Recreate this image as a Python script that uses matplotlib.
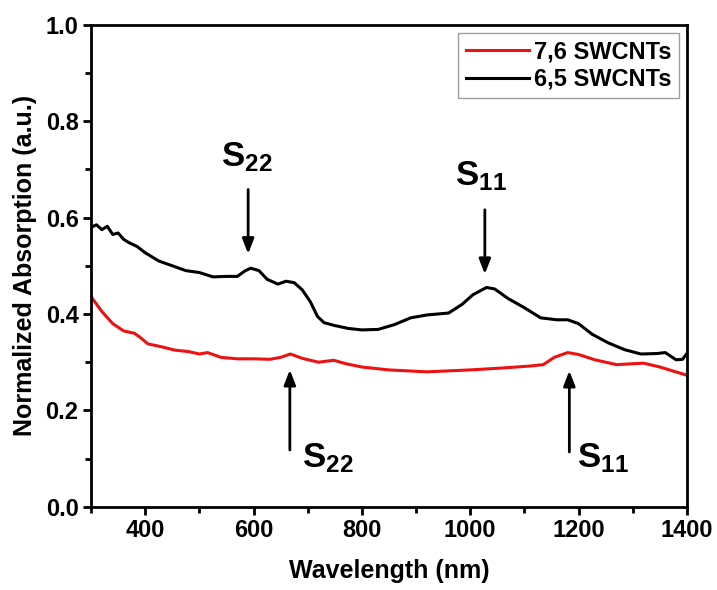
import matplotlib
matplotlib.use('Agg')
import matplotlib.pyplot as plt
from matplotlib.ticker import MultipleLocator

plt.rcParams['font.family'] = 'Liberation Sans'
plt.rcParams['font.weight'] = 'bold'
plt.rcParams['mathtext.fontset'] = 'custom'
plt.rcParams['mathtext.rm'] = 'Liberation Sans:bold'
plt.rcParams['mathtext.bf'] = 'Liberation Sans:bold'

# 6,5 SWCNTs spectrum
wl_65 = [300, 310, 320, 330, 340, 350, 360, 370, 385, 400, 425, 450, 475, 500,
         525, 550, 570, 585, 595, 610, 625, 645, 660, 675, 690, 705, 718, 730,
         750, 775, 800, 830, 860, 890, 920, 960, 985, 1005, 1030, 1045, 1070,
         1100, 1130, 1160, 1180, 1200, 1225, 1255, 1285, 1315, 1345, 1360,
         1380, 1392, 1400]
abs_65 = [0.580, 0.585, 0.575, 0.582, 0.565, 0.568, 0.555, 0.548, 0.540, 0.527,
          0.510, 0.500, 0.490, 0.486, 0.477, 0.478, 0.478, 0.490, 0.495, 0.490,
          0.472, 0.462, 0.468, 0.465, 0.450, 0.425, 0.395, 0.382, 0.376, 0.370,
          0.367, 0.368, 0.378, 0.392, 0.398, 0.402, 0.420, 0.440, 0.455, 0.452,
          0.432, 0.413, 0.392, 0.388, 0.388, 0.380, 0.358, 0.340, 0.326, 0.317,
          0.318, 0.320, 0.305, 0.306, 0.318]

# 7,6 SWCNTs spectrum
wl_76 = [300, 320, 340, 360, 380, 390, 405, 430, 455, 480, 500, 515, 540, 570,
         600, 630, 650, 668, 690, 720, 748, 770, 800, 850, 920, 1000, 1060,
         1110, 1135, 1155, 1180, 1200, 1230, 1270, 1320, 1350, 1400]
abs_76 = [0.436, 0.405, 0.380, 0.365, 0.360, 0.352, 0.338, 0.332, 0.325, 0.322,
          0.317, 0.320, 0.310, 0.307, 0.307, 0.306, 0.310, 0.317, 0.308, 0.300,
          0.304, 0.297, 0.290, 0.284, 0.280, 0.284, 0.288, 0.292, 0.295, 0.310,
          0.320, 0.316, 0.305, 0.295, 0.298, 0.290, 0.273]

fig = plt.figure(figsize=(7.17, 5.90), dpi=100)
ax = fig.add_axes([0.127, 0.141, 0.831, 0.817])

ax.plot(wl_76, abs_76, color='#ee1111', lw=2.2, label='7,6 SWCNTs')
ax.plot(wl_65, abs_65, color='black', lw=2.2, label='6,5 SWCNTs')

ax.set_xlim(300, 1400)
ax.set_ylim(0, 1.0)
ax.xaxis.set_minor_locator(MultipleLocator(100))
ax.yaxis.set_major_locator(MultipleLocator(0.2))
ax.yaxis.set_minor_locator(MultipleLocator(0.1))
ax.set_xticks([400, 600, 800, 1000, 1200, 1400])
ax.tick_params(which='major', direction='out', length=6, width=2, labelsize=17, pad=3)
ax.tick_params(which='minor', direction='out', length=4, width=2)
for s in ax.spines.values():
    s.set_linewidth(2)

ax.set_xlabel('Wavelength (nm)', fontsize=18, fontweight='bold', labelpad=12)
ax.set_ylabel('Normalized Absorption (a.u.)', fontsize=18, fontweight='bold', labelpad=6)

leg = ax.legend(loc='upper right', fontsize=17, frameon=True, fancybox=False,
                handlelength=2.7, handletextpad=0.2, borderpad=0.3,
                labelspacing=0.2, borderaxespad=0.35)
leg.get_frame().set_edgecolor('#888888')
leg.get_frame().set_linewidth(1)
for t in leg.get_texts():
    t.set_fontweight('bold')

arrow = dict(arrowstyle='-|>,head_length=0.9,head_width=0.35', color='black', lw=2)
# black-curve transitions, arrows pointing down
ax.annotate('', xy=(590, 0.519), xytext=(590, 0.664), arrowprops=arrow)
ax.text(588, 0.69, r'$\mathbf{S_{22}}$', fontsize=25, ha='center', va='bottom')
ax.annotate('', xy=(1027, 0.477), xytext=(1027, 0.622), arrowprops=arrow)
ax.text(1020, 0.65, r'$\mathbf{S_{11}}$', fontsize=25, ha='center', va='bottom')
# red-curve transitions, arrows pointing up
ax.annotate('', xy=(667, 0.29), xytext=(667, 0.112), arrowprops=arrow)
ax.text(690, 0.10, r'$\mathbf{S_{22}}$', fontsize=25, ha='left', va='center')
ax.annotate('', xy=(1183, 0.288), xytext=(1183, 0.108), arrowprops=arrow)
ax.text(1197, 0.10, r'$\mathbf{S_{11}}$', fontsize=25, ha='left', va='center')

fig.savefig('out.png', dpi=100)
